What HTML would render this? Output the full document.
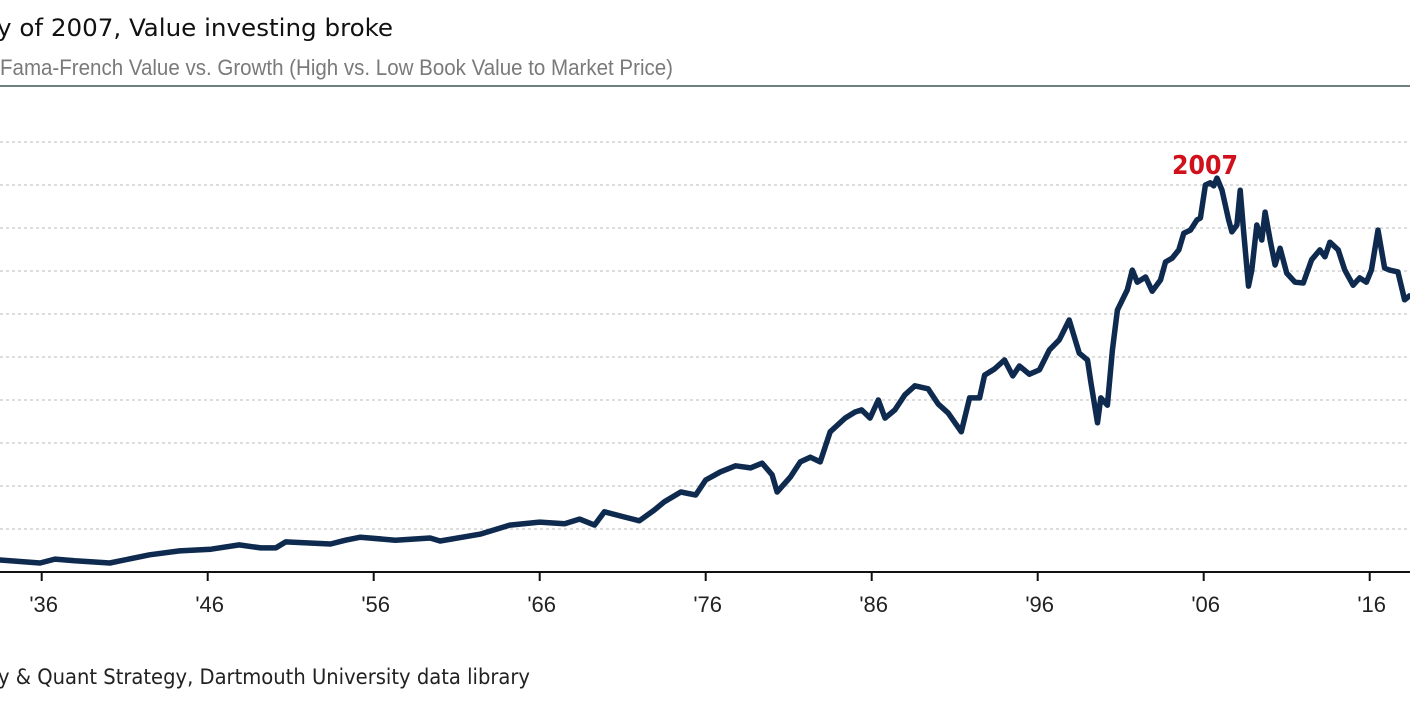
<!DOCTYPE html>
<html><head><meta charset="utf-8">
<style>html,body{margin:0;padding:0;background:#fff;overflow:hidden}svg{display:block}</style>
</head><body>
<svg id="chart" width="1410" height="705" xmlns="http://www.w3.org/2000/svg">
<text x="-3" y="36" font-family="'DejaVu Sans Condensed','Liberation Sans', sans-serif" font-size="24" fill="#111" textLength="396" lengthAdjust="spacingAndGlyphs">y of 2007, Value investing broke</text>
<text x="0" y="75" font-family="'Liberation Sans Narrow','Liberation Sans', sans-serif" font-size="22" fill="#7a7a7a" textLength="673" lengthAdjust="spacingAndGlyphs">Fama-French Value vs. Growth (High vs. Low Book Value to Market Price)</text>
<line x1="0" y1="86" x2="1410" y2="86" stroke="#6e8080" stroke-width="2"/>
<g id="grid"></g>
<g id="xaxis"></g>
<path id="line" fill="none" stroke="#0f2a4f" stroke-width="5.5" stroke-linejoin="round" stroke-linecap="round"/>
<text x="1205" y="174" text-anchor="middle" font-family="'DejaVu Sans','Liberation Sans', sans-serif" font-weight="bold" font-size="26" fill="#d0101a" textLength="66" lengthAdjust="spacingAndGlyphs">2007</text>
<text x="-2" y="684" font-family="'DejaVu Sans Condensed','Liberation Sans', sans-serif" font-size="21" fill="#222" textLength="532" lengthAdjust="spacingAndGlyphs">y &amp; Quant Strategy, Dartmouth University data library</text>
</svg>
<script>
const years = [1933.49,1935.9,1936.8,1938.0,1940.1,1942.5,1944.3,1946.2,1947.9,1949.2,1950.1,1950.7,1953.4,1954.3,1955.2,1957.3,1959.4,1960.0,1962.4,1964.2,1966.0,1967.5,1968.4,1969.3,1969.9,1971.1,1972.0,1972.9,1973.5,1974.5,1975.4,1976.0,1976.9,1977.8,1978.7,1979.4,1980.0,1980.3,1981.1,1981.7,1982.3,1982.9,1983.5,1984.4,1985.0,1985.4,1985.9,1986.4,1986.8,1987.4,1988.0,1988.6,1989.4,1990.0,1990.6,1991.4,1991.9,1992.5,1992.8,1993.4,1994.0,1994.5,1994.9,1995.5,1996.1,1996.7,1997.3,1997.9,1998.5,1999.0,1999.2,1999.6,1999.8,2000.2,2000.5,2000.8,2001.1,2001.4,2001.7,2002.0,2002.5,2002.9,2003.4,2003.7,2004.1,2004.5,2004.8,2005.2,2005.6,2005.8,2006.1,2006.4,2006.6,2006.8,2007.1,2007.5,2007.7,2008.0,2008.2,2008.4,2008.7,2008.9,2009.2,2009.5,2009.7,2010.0,2010.3,2010.6,2011.0,2011.5,2012.0,2012.5,2013.0,2013.3,2013.6,2014.1,2014.5,2015.0,2015.4,2015.8,2016.1,2016.5,2016.9,2017.2,2017.7,2018.1,2018.4];
const values = [0.28,0.21,0.30,0.26,0.21,0.40,0.49,0.53,0.63,0.56,0.56,0.70,0.65,0.74,0.81,0.74,0.79,0.72,0.88,1.09,1.16,1.12,1.23,1.09,1.40,1.28,1.19,1.44,1.63,1.86,1.79,2.14,2.33,2.47,2.42,2.53,2.26,1.86,2.21,2.56,2.67,2.56,3.26,3.58,3.72,3.77,3.58,4.00,3.58,3.77,4.12,4.33,4.26,3.91,3.70,3.26,4.05,4.05,4.58,4.72,4.93,4.56,4.79,4.60,4.70,5.16,5.40,5.86,5.09,4.93,4.42,3.47,4.05,3.88,5.16,6.09,6.33,6.56,7.02,6.74,6.86,6.53,6.79,7.21,7.30,7.49,7.88,7.95,8.19,8.23,9.00,9.05,8.98,9.16,8.88,8.19,7.91,8.07,8.88,7.95,6.65,7.02,8.07,7.72,8.37,7.72,7.14,7.53,6.95,6.74,6.72,7.26,7.49,7.33,7.67,7.49,7.02,6.67,6.84,6.74,7.02,7.95,7.07,7.02,6.98,6.33,6.42];
const tickYears = [1936,1946,1956,1966,1976,1986,1996,2006,2016];
const tickLabels = ["'36","'46","'56","'66","'76","'86","'96","'06","'16"];
const gridValues = [1,2,3,4,5,6,7,8,9,10];

const NS = 'http://www.w3.org/2000/svg';
const xScale = y => 41.7 + (y - 1936) * 16.6;
const yScale = v => 572 - v * 43;

const grid = document.getElementById('grid');
gridValues.forEach(v => {
  const l = document.createElementNS(NS, 'line');
  
  
  l.setAttribute('x1', 0); l.setAttribute('x2', 1410);
  l.setAttribute('y1', yScale(v)); l.setAttribute('y2', yScale(v));
  l.setAttribute('stroke', '#bbb'); l.setAttribute('stroke-width', '1');
  l.setAttribute('stroke-dasharray', '3,3');
  grid.appendChild(l);
});

const xaxis = document.getElementById('xaxis');
const base = document.createElementNS(NS, 'line');


base.setAttribute('x1', 0); base.setAttribute('x2', 1410);
base.setAttribute('y1', yScale(0)); base.setAttribute('y2', yScale(0));
base.setAttribute('stroke', '#111'); base.setAttribute('stroke-width', '2');
xaxis.appendChild(base);
tickYears.forEach((yr, i) => {
  const x = xScale(yr);
  const t = document.createElementNS(NS, 'line');
  
  
  t.setAttribute('x1', x); t.setAttribute('x2', x);
  t.setAttribute('y1', yScale(0)); t.setAttribute('y2', yScale(0) + 9);
  t.setAttribute('stroke', '#111'); t.setAttribute('stroke-width', '2');
  xaxis.appendChild(t);
  const lb = document.createElementNS(NS, 'text');
  
  
  lb.setAttribute('x', x + 2); lb.setAttribute('y', 612);
  lb.setAttribute('text-anchor', 'middle');
  lb.setAttribute('font-family', "'Liberation Sans Narrow','Liberation Sans', sans-serif");
  lb.setAttribute('font-size', '22');
  lb.setAttribute('fill', '#222');
  lb.textContent = tickLabels[i];
  xaxis.appendChild(lb);
});

let d = '';
years.forEach((yr, i) => {
  d += (i ? 'L' : 'M') + xScale(yr).toFixed(1) + ',' + yScale(values[i]).toFixed(1);
});
document.getElementById('line').setAttribute('d', d);
</script>
</body></html>
